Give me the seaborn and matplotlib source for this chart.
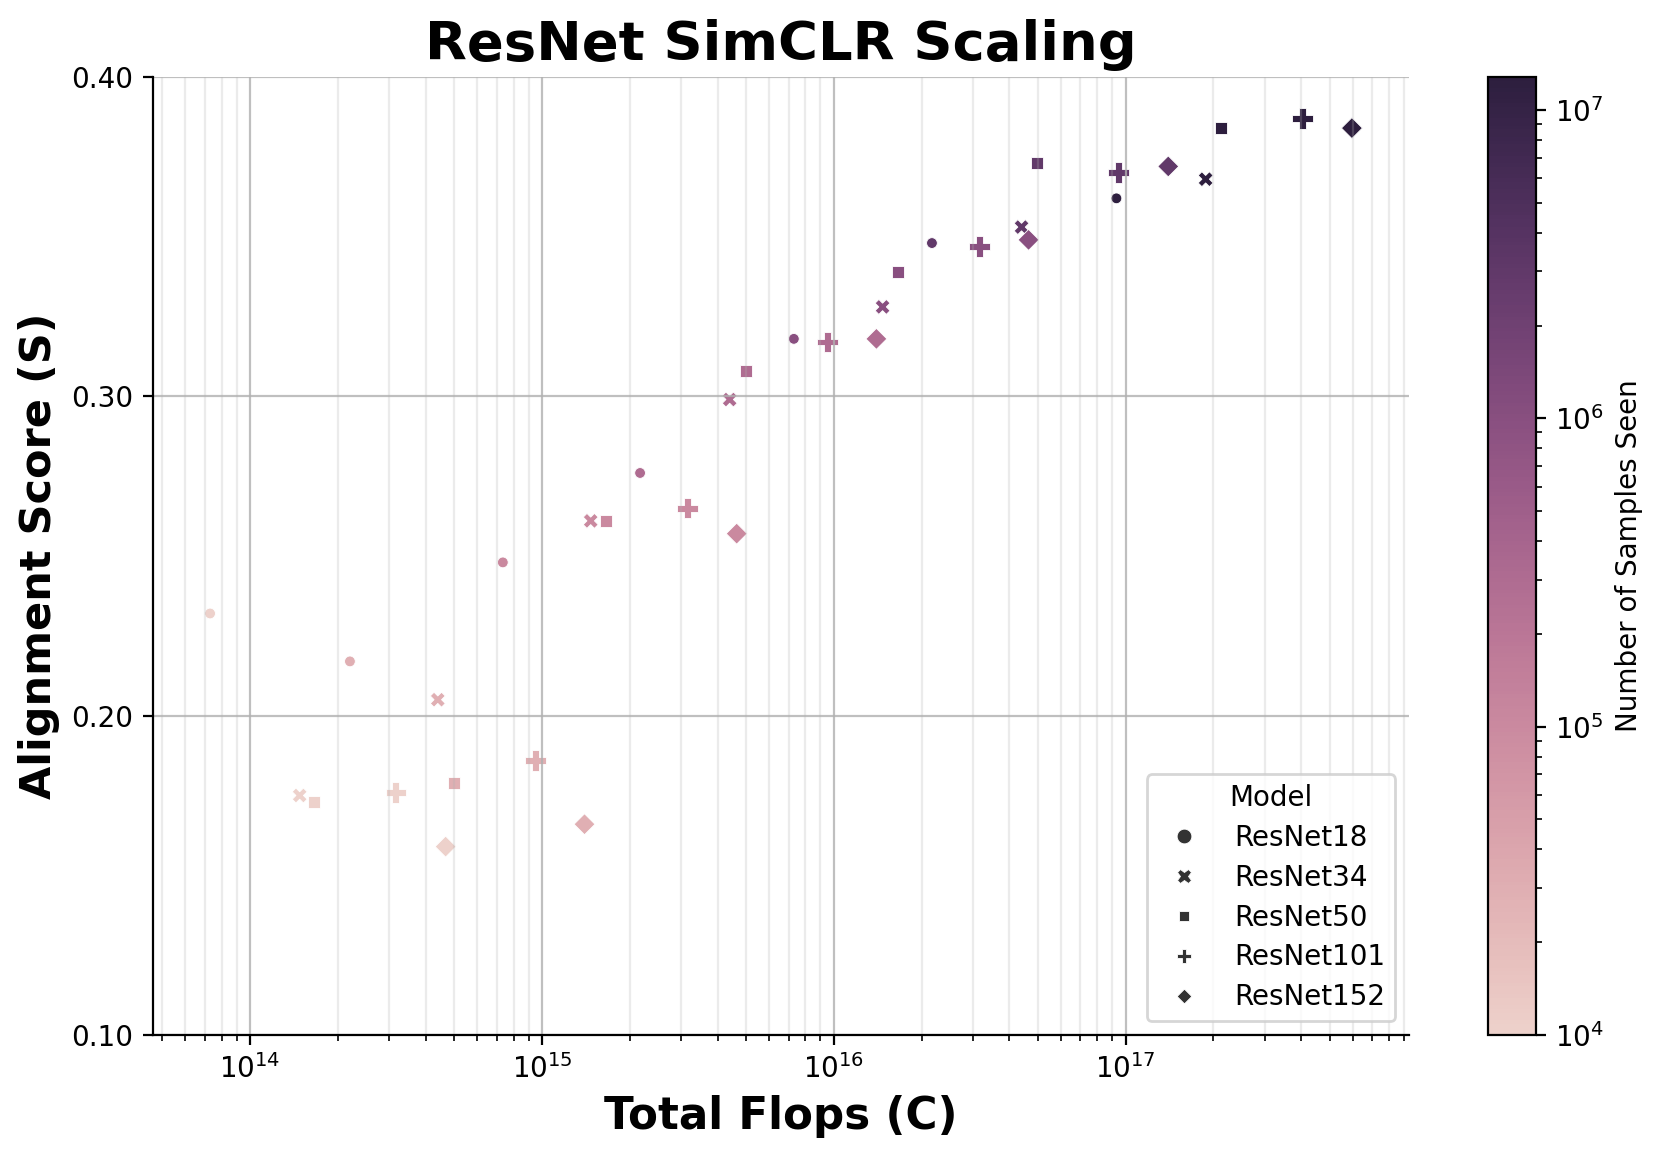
import numpy as np
import pandas as pd
import matplotlib
matplotlib.use("Agg")
import matplotlib.pyplot as plt
from matplotlib.colors import LogNorm
from matplotlib.cm import ScalarMappable
from matplotlib.lines import Line2D
from matplotlib.ticker import FormatStrFormatter
import seaborn as sns

# ---------------- data ----------------
models = ["ResNet18", "ResNet34", "ResNet50", "ResNet101", "ResNet152"]
samples_seen = [1e4, 3e4, 1e5, 3e5, 1e6, 3e6, 1.28e7]

flops_resnet18 = [7.3e13, 2.2e14, 7.35e14, 2.17e15, 7.3e15, 2.17e16, 9.3e16]
score_resnet18 = [0.232, 0.217, 0.248, 0.276, 0.318, 0.348, 0.362]

flops_resnet34 = [1.48e14, 4.4e14, 1.47e15, 4.4e15, 1.47e16, 4.4e16, 1.88e17]
score_resnet34 = [0.175, 0.205, 0.261, 0.299, 0.328, 0.353, 0.368]

flops_resnet50 = [1.66e14, 5.0e14, 1.66e15, 5.0e15, 1.66e16, 4.97e16, 2.12e17]
score_resnet50 = [0.173, 0.179, 0.261, 0.308, 0.339, 0.373, 0.384]

flops_resnet101 = [3.16e14, 9.5e14, 3.16e15, 9.5e15, 3.16e16, 9.45e16, 4.03e17]
score_resnet101 = [0.176, 0.186, 0.265, 0.317, 0.347, 0.370, 0.387]

flops_resnet152 = [4.68e14, 1.40e15, 4.65e15, 1.40e16, 4.65e16, 1.40e17, 5.96e17]
score_resnet152 = [0.159, 0.166, 0.257, 0.318, 0.349, 0.372, 0.384]

flops_by_model = [flops_resnet18, flops_resnet34, flops_resnet50, flops_resnet101, flops_resnet152]
score_by_model = [score_resnet18, score_resnet34, score_resnet50, score_resnet101, score_resnet152]

y_ticks = [0.10, 0.20, 0.30, 0.40]

rows = []
for m, fl, sc in zip(models, flops_by_model, score_by_model):
    for n, f, s in zip(samples_seen, fl, sc):
        rows.append({"Model": m, "Samples": n, "Flops": f, "Score": s})
df = pd.DataFrame(rows)

# ---------------- styling ----------------
marker_map = {"ResNet18": "o", "ResNet34": "X", "ResNet50": (4, 0, 45),
              "ResNet101": "P", "ResNet152": (4, 0, 0)}
size_map = {"ResNet18": 15, "ResNet34": 29, "ResNet50": 35,
            "ResNet101": 55, "ResNet152": 57}

cmap = sns.cubehelix_palette(as_cmap=True)
norm = LogNorm(vmin=1e4, vmax=1.28e7)

W, H, DPI = 1661, 1157, 200
fig = plt.figure(figsize=(W / DPI, H / DPI), dpi=DPI)
ax = fig.add_axes([153 / W, 1 - 1035 / H, (1409 - 153) / W, (1035 - 77) / H])
cax = fig.add_axes([1488 / W, 1 - 1035 / H, 48 / W, (1035 - 77) / H])

sns.scatterplot(data=df, x="Flops", y="Score", hue="Samples", hue_norm=norm,
                palette=cmap, style="Model", markers=marker_map,
                size="Model", sizes=size_map, legend=False, ax=ax)

ax.set_xscale("log")
ax.set_ylim(0.10, 0.40)
ax.set_yticks(y_ticks)
ax.yaxis.set_major_formatter(FormatStrFormatter("%.2f"))

ax.grid(True, which="major", color="#b0b0b0", alpha=0.8, linewidth=0.8)
ax.grid(True, which="minor", axis="x", color="#b0b0b0", alpha=0.25, linewidth=0.8)

for side in ["top", "right"]:
    ax.spines[side].set_visible(False)

ax.set_title("ResNet SimCLR Scaling", fontsize=19.6, fontweight="bold")
ax.set_xlabel("Total Flops (C)", fontsize=15.7, fontweight="bold")
ax.set_ylabel("Alignment Score (S)", fontsize=15.5, fontweight="bold")

handles = [Line2D([], [], linestyle="", marker=marker_map[m], color=".2",
                  markeredgecolor="w", markeredgewidth=0.3, markersize=5.3)
           for m in models]
ax.legend(handles, models, title="Model", loc="lower right", fontsize=10,
          title_fontsize=10, labelspacing=0.43, borderpad=0.35)

sm = ScalarMappable(norm=norm, cmap=cmap)
sm.set_array([])
cb = fig.colorbar(sm, cax=cax)
cb.set_label("Number of Samples Seen", fontsize=10)

fig.savefig("out.png", dpi=DPI)
